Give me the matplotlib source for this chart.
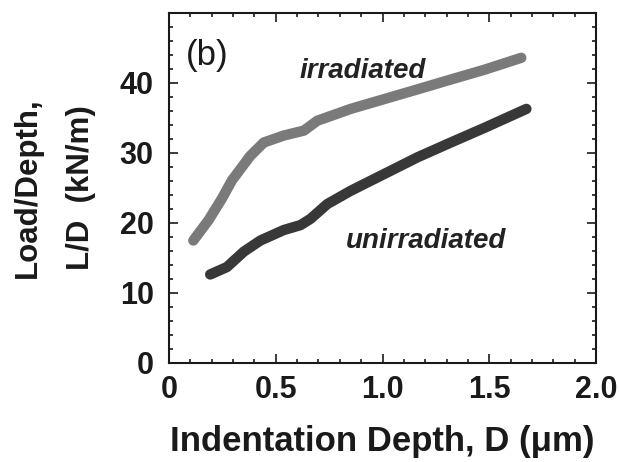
import matplotlib
matplotlib.use("Agg")
import matplotlib.pyplot as plt
from matplotlib.ticker import MultipleLocator

irr_x = [0.114, 0.185, 0.248, 0.295, 0.381, 0.444, 0.538, 0.632, 0.694, 0.851, 1.008, 1.165, 1.32, 1.478, 1.65]
irr_y = [17.5, 20.4, 23.5, 26.1, 29.6, 31.5, 32.5, 33.2, 34.6, 36.3, 37.7, 39.1, 40.5, 41.9, 43.6]
unirr_x = [0.193, 0.271, 0.35, 0.428, 0.538, 0.616, 0.663, 0.741, 0.851, 1.008, 1.165, 1.32, 1.478, 1.674]
unirr_y = [12.65, 13.7, 15.9, 17.5, 19.0, 19.7, 20.6, 22.7, 24.6, 27.0, 29.4, 31.5, 33.6, 36.3]
xticks = [0, 0.5, 1.0, 1.5, 2.0]
xtick_labels = ["0", "0.5", "1.0", "1.5", "2.0"]
yticks = [0, 10, 20, 30, 40]
ytick_labels = ["0", "10", "20", "30", "40"]

plt.rcParams['font.family'] = ['Liberation Sans', 'DejaVu Sans']

fig = plt.figure(figsize=(6.19, 4.62), dpi=100)
ax = fig.add_axes([169/619, 1-363/462, (596-169)/619, (363-13)/462])

ax.plot(irr_x, irr_y, color='#7a7a7a', lw=7.5, solid_capstyle='round', solid_joinstyle='round')
ax.plot(unirr_x, unirr_y, color='#383838', lw=7.5, solid_capstyle='round', solid_joinstyle='round')

ax.set_xlim(0, 2.0)
ax.set_ylim(0, 50)
ax.set_xticks(xticks)
ax.set_xticklabels(xtick_labels)
ax.set_yticks(yticks)
ax.set_yticklabels(ytick_labels)
ax.xaxis.set_minor_locator(MultipleLocator(0.1))
ax.yaxis.set_minor_locator(MultipleLocator(2))
ax.tick_params(which='both', direction='in', top=True, right=True, width=1.2, colors='#1a1a1a')
ax.tick_params(which='major', length=6.5, labelsize=22)
ax.tick_params(which='minor', length=3)
ax.tick_params(axis='x', which='major', pad=9)
ax.tick_params(axis='y', which='major', pad=11)
for lab in ax.get_xticklabels() + ax.get_yticklabels():
    lab.set_fontweight('bold')
for s in ax.spines.values():
    s.set_linewidth(1.5)
    s.set_color('#1a1a1a')

ax.set_xlabel("Indentation Depth, D (μm)", fontsize=25, fontweight='bold', labelpad=14, color='#1a1a1a')
ax.set_ylabel("Load/Depth,\nL/D  (kN/m)", fontsize=22.5, fontweight='bold', linespacing=2.0, color='#1a1a1a')
ax.yaxis.set_label_coords((96-169)/427, 0.5)

ax.text(0.18, 44, "(b)", fontsize=25, ha='center', va='center', color='#1a1a1a')
ax.text(0.906, 41.7, "irradiated", fontsize=20, fontweight='bold', style='italic', ha='center', va='center', color='#222222')
ax.text(1.204, 17.5, "unirradiated", fontsize=20, fontweight='bold', style='italic', ha='center', va='center', color='#222222')

fig.savefig("out.png", dpi=100)
